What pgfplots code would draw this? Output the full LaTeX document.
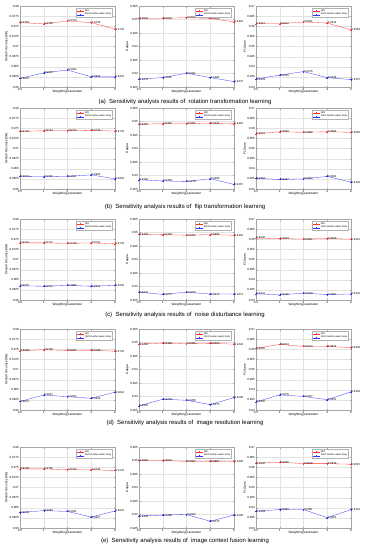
\documentclass[border=0pt]{standalone}
\usepackage{fontspec}
\setmainfont{Liberation Sans}
\usepackage{pgfplots}
\pgfplotsset{compat=1.18}
\pgfplotsset{
 sens/.style={
  scale only axis, width=95bp, height=81bp,
  xmin=0, xmax=4, xtick={0,...,4}, xticklabels={0.5,1,2,4,8},
  grid=major, grid style={gray!22, line width=0.2pt},
  axis line style={gray!70, line width=0.3pt},
  tick style={gray!70, line width=0.2pt}, major tick length=1.5bp,
  tick label style={font=\fontsize{3}{3.5}\selectfont, inner sep=1pt},
  /pgf/number format/assume math mode=true,
  yticklabel style={/pgf/number format/.cd, fixed, precision=4},
  label style={font=\fontsize{3.2}{3.6}\selectfont},
  xlabel={Weighting parameter},
  xlabel style={yshift=4.5bp},
  ylabel style={yshift=-3bp},
  legend style={font=\fontsize{2.4}{2.8}\selectfont, at={(0.97,0.97)}, anchor=north east,
    draw=gray!60, line width=0.2pt, inner sep=0.5pt, row sep=-0.8pt,
    nodes={inner sep=0.6pt}},
  legend image code/.code={\draw[mark repeat=2,mark phase=2] plot coordinates {(0cm,0cm) (0.12cm,0cm) (0.24cm,0cm)};},
  legend cell align=left,
  every axis plot/.append style={line width=0.3pt, mark size=1pt},
  clip=false,
 },
 lab/.style={nodes near coords,
  every node near coord/.append style={font=\fontsize{2.8}{3}\selectfont, anchor=west, black, inner sep=0.5pt,
    /pgf/number format/fixed, /pgf/number format/precision=4, /pgf/number format/fixed zerofill}},
 oa/.style={sens, ymin=0.96, ymax=0.98, ytick distance=0.0025, ylabel={Overall Accuracy(OA)}},
 ka/.style={sens, ymin=0.925, ymax=0.955, ytick distance=0.005, ylabel={Kappa}},
 fs/.style={sens, ymin=0.93, ymax=0.97, ytick distance=0.005, ylabel={F1Score}},
}
\newcommand{\sensplot}[5]{%
\begin{axis}[#1, at={(#2)}, anchor=north west]
\addplot[red!80, mark=+, lab, forget plot] coordinates {#4};
\addplot[blue!80, mark=+, lab, forget plot] coordinates {#5};
\addlegendimage{red!80, mark=+, line width=0.3pt, mark size=1pt}
\addlegendimage{blue!80, mark=+, line width=0.3pt, mark size=1pt}
\legend{GID, 2020 Gaofen water body}
\end{axis}}
\begin{document}
\begin{tikzpicture}
\useasboundingbox (0,0) rectangle (369bp,-550bp);
% row a
\sensplot{oa}{20bp,-6bp}{}{(0,0.9759) (1,0.9756) (2,0.9763) (3,0.9759) (4,0.9743)}{(0,0.9621) (1,0.9635) (2,0.9642) (3,0.9625) (4,0.9625)}
\sensplot{ka}{139bp,-6bp}{}{(0,0.9504) (1,0.9504) (2,0.9507) (3,0.9504) (4,0.9491)}{(0,0.9279) (1,0.9285) (2,0.9301) (3,0.9285) (4,0.9270)}
\sensplot{fs}{256bp,-6bp}{}{(0,0.9612) (1,0.9612) (2,0.9621) (3,0.9616) (4,0.9582)}{(0,0.9339) (1,0.9359) (2,0.9376) (3,0.9346) (4,0.9337)}
% row b
\sensplot{oa}{20bp,-108bp}{}{(0,0.9742) (1,0.9744) (2,0.9744) (3,0.9745) (4,0.9743)}{(0,0.9631) (1,0.9630) (2,0.9631) (3,0.9635) (4,0.9625)}
\sensplot{ka}{139bp,-108bp}{}{(0,0.9490) (1,0.9492) (2,0.9492) (3,0.9494) (4,0.9492)}{(0,0.9284) (1,0.9280) (2,0.9278) (3,0.9288) (4,0.9267)}
\sensplot{fs}{256bp,-108bp}{}{(0,0.9572) (1,0.9583) (2,0.9580) (3,0.9583) (4,0.9580)}{(0,0.9353) (1,0.9347) (2,0.9350) (3,0.9362) (4,0.9334)}
% row c
\sensplot{oa}{20bp,-219bp}{}{(0,0.9741) (1,0.9741) (2,0.9740) (3,0.9741) (4,0.9739)}{(0,0.9635) (1,0.9634) (2,0.9636) (3,0.9634) (4,0.9636)}
\sensplot{ka}{139bp,-219bp}{}{(0,0.9494) (1,0.9492) (2,0.9490) (3,0.9492) (4,0.9490)}{(0,0.9279) (1,0.9271) (2,0.9279) (3,0.9272) (4,0.9272)}
\sensplot{fs}{256bp,-219bp}{}{(0,0.9606) (1,0.9603) (2,0.9601) (3,0.9603) (4,0.9601)}{(0,0.9331) (1,0.9325) (2,0.9334) (3,0.9327) (4,0.9330)}
% row d
\sensplot{oa}{20bp,-329bp}{}{(0,0.9746) (1,0.9749) (2,0.9747) (3,0.9748) (4,0.9745)}{(0,0.9621) (1,0.9637) (2,0.9633) (3,0.9629) (4,0.9644)}
\sensplot{ka}{139bp,-329bp}{}{(0,0.9494) (1,0.9498) (2,0.9495) (3,0.9497) (4,0.9494)}{(0,0.9265) (1,0.9290) (2,0.9286) (3,0.9270) (4,0.9296)}
\sensplot{fs}{256bp,-329bp}{}{(0,0.9605) (1,0.9624) (2,0.9614) (3,0.9614) (4,0.9608)}{(0,0.9340) (1,0.9375) (2,0.9367) (3,0.9351) (4,0.9390)}
% row e
\sensplot{oa}{20bp,-447bp}{}{(0,0.9746) (1,0.9746) (2,0.9744) (3,0.9744) (4,0.9742)}{(0,0.9638) (1,0.9643) (2,0.9641) (3,0.9627) (4,0.9642)}
\sensplot{ka}{139bp,-447bp}{}{(0,0.9500) (1,0.9500) (2,0.9497) (3,0.9497) (4,0.9496)}{(0,0.9294) (1,0.9298) (2,0.9300) (3,0.9275) (4,0.9298)}
\sensplot{fs}{256bp,-447bp}{}{(0,0.9620) (1,0.9625) (2,0.9618) (3,0.9618) (4,0.9615)}{(0,0.9383) (1,0.9391) (2,0.9391) (3,0.9351) (4,0.9391)}
% captions
\begin{scope}[every node/.style={font=\fontsize{6}{7}\selectfont}]
\node at (185bp,-102bp) {(a)\ \ Sensitivity analysis results of \ rotation transformation learning};
\node at (185bp,-207bp) {(b)\ \ Sensitivity analysis results of \ flip transformation learning};
\node at (185bp,-315bp) {(c)\ \ Sensitivity analysis results of \ noise disturbance learning};
\node at (185bp,-423bp) {(d)\ \ Sensitivity analysis results of \ image resolution learning};
\node at (185bp,-541bp) {(e)\ \ Sensitivity analysis results of \ image context fusion learning};
\end{scope}
\end{tikzpicture}
\end{document}
